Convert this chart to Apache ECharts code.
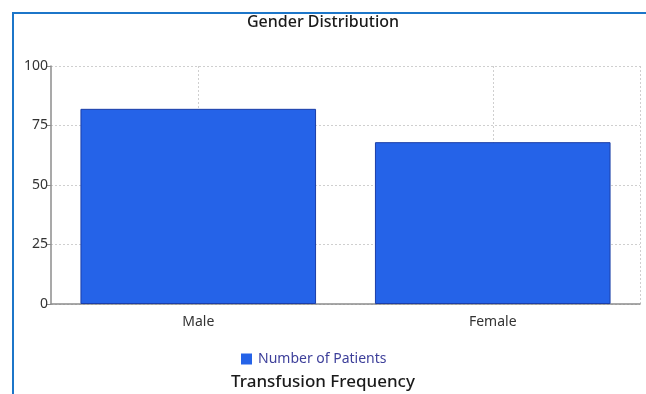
<!DOCTYPE html>
<html>
<head>
<meta charset="utf-8">
<script src="https://cdn.jsdelivr.net/npm/echarts@6/dist/echarts.min.js"></script>
<style>
  html, body { margin: 0; padding: 0; background: #fff; }
  #frame { position: absolute; left: 12px; top: 12px; width: 640px; height: 390px;
           border-top: 2px solid #1c76c9; border-left: 2px solid #1c76c9; }
  #chart { position: absolute; left: 0; top: 0; width: 646px; height: 394px; }
</style>
</head>
<body>
<div id="frame"></div>
<div id="chart"></div>
<script>
var categories = ['Male', 'Female'];
var patients = [82, 68];
var yTicks = [0, 25, 50, 75, 100];

var myChart = echarts.init(document.getElementById('chart'));
var font = 'Noto Sans';

var option = {
    title: [
        {
            text: 'Gender Distribution',
            left: 'center',
            top: 9,
            textStyle: { fontFamily: font, fontSize: 16, fontWeight: 500, color: '#1a1a1a' }
        },
        {
            text: 'Transfusion Frequency',
            left: 'center',
            top: 369,
            textStyle: { fontFamily: font, fontSize: 17, fontWeight: 500, color: '#1a1a1a' }
        }
    ],
    legend: {
        top: 347,
        left: 236,
        itemWidth: 11,
        itemHeight: 11,
        itemGap: 4,
        data: [{ name: 'Number of Patients', icon: 'rect', itemStyle: { borderWidth: 0 } }],
        textStyle: { fontFamily: font, fontSize: 14, color: '#3d3f9a', padding: [0, 0, 0, 1] }
    },
    grid: { left: 51, right: 6, top: 66, bottom: 90 },
    xAxis: [
        {
            type: 'category',
            data: categories,
            axisLine: { lineStyle: { color: '#8c8c8c', width: 1.5 } },
            axisTick: { alignWithLabel: true, length: 4, lineStyle: { color: '#8c8c8c' } },
            axisLabel: { fontFamily: font, fontSize: 14, color: '#333', margin: 11 },
            splitLine: { show: false }
        },
        {
            // helper axis: vertical dotted guides at category centres and right edge
            type: 'category',
            position: 'bottom',
            boundaryGap: false,
            data: ['', '', '', '', ''],
            axisLine: { show: false },
            axisTick: { show: false },
            axisLabel: { show: false },
            splitLine: {
                show: true,
                interval: function (i) { return i % 2 === 1 || i === 4; },
                lineStyle: { color: '#cfcfcf', type: [2, 2] }
            }
        }
    ],
    yAxis: {
        type: 'value',
        min: 0,
        max: 100,
        interval: 25,
        axisLine: { show: true, lineStyle: { color: '#8c8c8c', width: 1.5 } },
        axisTick: { show: true, length: 4, lineStyle: { color: '#8c8c8c' } },
        axisLabel: {
            fontFamily: font, fontSize: 14, color: '#333', margin: 3,
            formatter: function (v) { return yTicks.indexOf(v) >= 0 ? v : ''; }
        },
        splitLine: { lineStyle: { color: '#cfcfcf', type: [2, 2] } }
    },
    series: [
        {
            name: 'Number of Patients',
            type: 'bar',
            xAxisIndex: 0,
            data: patients,
            barCategoryGap: '20%',
            itemStyle: { color: '#2563e8', borderColor: '#1b3ea8', borderWidth: 1 }
        }
    ],
    animation: false
};

myChart.setOption(option);
</script>
</body>
</html>
